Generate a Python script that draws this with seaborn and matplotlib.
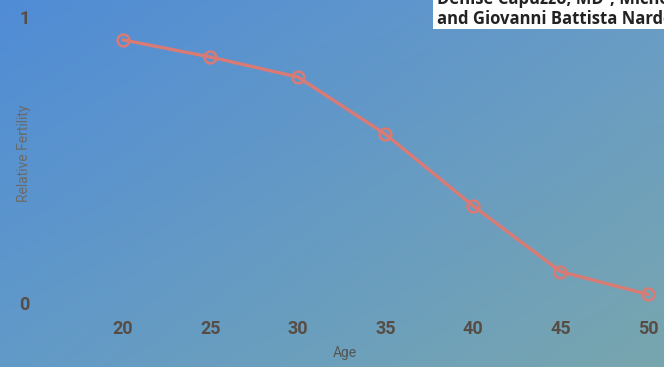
import numpy as np
import pandas as pd
import matplotlib
matplotlib.use('Agg')
import matplotlib.pyplot as plt
import seaborn as sns

# values
ages = [20, 25, 30, 35, 40, 45, 50]
fertility = [0.92, 0.86, 0.79, 0.59, 0.34, 0.11, 0.03]
x_ticks = [20, 25, 30, 35, 40, 45, 50]
y_ticks = [0, 1]
y_tick_labels = ['0', '1']
x_label = 'Age'
y_label = 'Relative Fertility'
caption_lines = ['Denise Capuzzo, MD\u00b9, Michela', 'and Giovanni Battista Nardelli']

sns.set_theme(style='white')
plt.rcParams['font.family'] = ['Roboto', 'DejaVu Sans']

df = pd.DataFrame({'age': ages, 'fertility': fertility})

W, H = 664, 367
fig = plt.figure(figsize=(W / 100, H / 100), dpi=100)

# gradient background (blue top-left -> teal bottom-right)
bg = fig.add_axes([0, 0, 1, 1])
bg.set_axis_off()
tl = np.array([80, 140, 214]) / 255
tr = np.array([104, 156, 198]) / 255
bl = np.array([98, 154, 200]) / 255
br = np.array([120, 166, 174]) / 255
u = np.linspace(0, 1, 200)[None, :, None]
v = np.linspace(0, 1, 120)[:, None, None]
grad = tl * (1 - u) * (1 - v) + tr * u * (1 - v) + bl * (1 - u) * v + br * u * v
bg.imshow(grad, extent=[0, 1, 0, 1], aspect='auto', interpolation='bilinear')
bg.set_xlim(0, 1)
bg.set_ylim(0, 1)

# main axes
ax = fig.add_axes([60 / W, (H - 310) / H, 600 / W, 300 / H])
ax.set_facecolor('none')
line_col = '#da7a74'
sns.lineplot(data=df, x='age', y='fertility', ax=ax, color=line_col, lw=2.4,
             marker='o', markersize=8.5, markerfacecolor='none',
             markeredgecolor=line_col, markeredgewidth=1.8)
ax.set_xlim(16.4, 50.69)
ax.set_ylim(-0.0245, 1.0245)
for s in ax.spines.values():
    s.set_visible(False)
ax.set_xticks(x_ticks)
ax.set_yticks(y_ticks)
ax.set_yticklabels(y_tick_labels)
ax.tick_params(axis='x', length=0, pad=7, labelsize=13, colors='#574d45')
ax.tick_params(axis='y', length=0, pad=22, labelsize=13, colors='#574d45')
for lab in ax.get_xticklabels() + ax.get_yticklabels():
    lab.set_fontweight('bold')
ax.set_xlabel(x_label, fontsize=10, color='#555555')
ax.set_ylabel(y_label, fontsize=10, color='#6a6a6a')
ax.xaxis.set_label_coords((345 - 60) / 600, (310 - 346) / 300)
ax.yaxis.set_label_coords((31 - 60) / 600, (310 - 153) / 300)
ax.grid(False)

# cropped caption box in the corner, text runs past its edges as in the screenshot
cap = fig.add_axes([433 / W, 1 - 29 / H, 231 / W, 29 / H])
cap.set_facecolor('white')
cap.set_xticks([])
cap.set_yticks([])
for s in cap.spines.values():
    s.set_visible(False)
cap.text(0.017, 0.86, caption_lines[0], transform=cap.transAxes, fontsize=12,
         fontweight='bold', family=['Open Sans', 'DejaVu Sans'], color='#222222', clip_on=True)
cap.text(0.017, 0.17, caption_lines[1], transform=cap.transAxes, fontsize=12,
         fontweight='bold', family=['Open Sans', 'DejaVu Sans'], color='#222222', clip_on=True)

fig.savefig('out.png', dpi=100)
